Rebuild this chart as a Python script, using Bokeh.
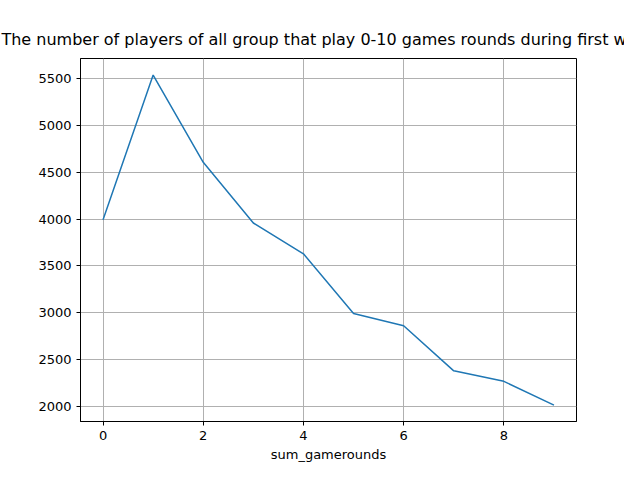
from bokeh.plotting import figure
from bokeh.embed import file_html
from bokeh.resources import INLINE
from bokeh.models import Range1d, FixedTicker

rounds = [0, 1, 2, 3, 4, 5, 6, 7, 8, 9]
players = [3994, 5538, 4606, 3958, 3629, 2992, 2861, 2379, 2267, 2013]
xticks = [0, 2, 4, 6, 8]
yticks = [2000, 2500, 3000, 3500, 4000, 4500, 5000, 5500]

p = figure(width=624, height=464, output_backend="svg", toolbar_location=None,
           title="The number of players of all group that play 0-10 games rounds during first week",
           x_range=Range1d(-0.45, 9.45), y_range=Range1d(1838, 5715),
           min_border_left=80, min_border_right=48, min_border_top=58, min_border_bottom=37)
p.line(rounds, players, line_color="#1f77b4", line_width=1.5)
p.title.align = "center"
p.title.text_font = "DejaVu Sans"
p.title.text_font_size = "16px"
p.title.text_font_style = "normal"
p.title.text_color = "black"
p.title.standoff = 20
p.xaxis.axis_label = "sum_gamerounds"
p.xaxis.ticker = FixedTicker(ticks=xticks)
p.yaxis.ticker = FixedTicker(ticks=yticks)
for ax in [p.xaxis[0], p.yaxis[0]]:
    ax.major_label_text_font = "DejaVu Sans"
    ax.major_label_text_font_size = "13px"
    ax.major_label_text_color = "black"
    ax.axis_label_text_font = "DejaVu Sans"
    ax.axis_label_text_font_size = "13px"
    ax.axis_label_text_font_style = "normal"
    ax.axis_label_text_color = "black"
    ax.minor_tick_line_color = None
    ax.major_tick_in = 0
    ax.major_tick_out = 4
    ax.axis_line_color = "black"
p.xaxis.axis_label_standoff = 4
p.grid.grid_line_color = "#b0b0b0"
p.grid.grid_line_alpha = 1
p.outline_line_color = "black"
p.outline_line_alpha = 1

open("out.html", "w").write(file_html(p, INLINE))
